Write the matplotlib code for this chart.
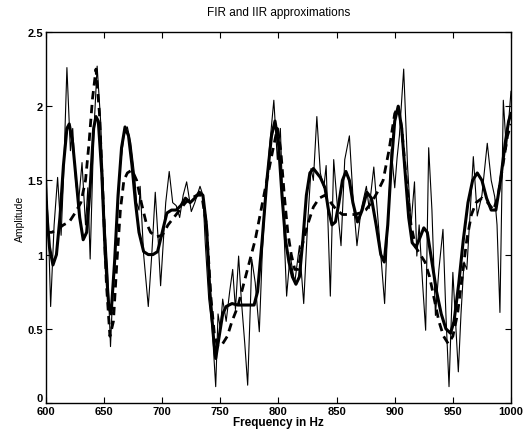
import numpy as np
import matplotlib
matplotlib.use("Agg")
import matplotlib.pyplot as plt

plt.rcParams['font.family'] = ['Liberation Sans', 'DejaVu Sans']

# measured response (thin line)
orig_f = [600, 602, 604, 607, 610, 613, 615, 618, 621, 623, 625.5, 628, 631, 634, 636, 638,
          641, 644, 647, 650, 653, 655.5, 658, 661, 664, 667, 670, 673, 676, 678, 680, 681,
          684, 688, 691, 694, 696.5, 698.6, 701, 703, 706, 709, 712, 715, 718, 721, 725, 728,
          732.5, 735, 737, 740, 743, 746, 748, 750, 752, 755, 758, 760.6, 763, 765.7, 768, 771,
          773.5, 776, 777, 780, 783.5, 786, 789, 792, 796, 799, 801.6, 804, 807, 810, 812, 814,
          818, 821.7, 825, 828, 830, 833, 836, 839, 841, 844.6, 847.5, 851, 853.8, 857, 861, 864,
          867.5, 871, 875.6, 878, 882, 886, 888, 891.3, 894, 897, 900, 902, 904, 907.7, 911, 914,
          917, 919, 921, 924, 926.6, 929.2, 932, 935, 938, 941.5, 944, 946.7, 950, 952, 954.7, 957,
          959.6, 962, 965, 967.6, 971, 975, 979.6, 983, 986, 988, 990.5, 993.4, 996, 998, 1000]
orig_a = [1.60, 1.20, 0.65, 1.20, 1.52, 1.13, 1.50, 2.26, 1.70, 1.85, 1.49, 1.35, 1.62, 1.20, 1.45, 0.97,
          1.80, 2.27, 1.90, 1.30, 0.90, 0.38, 0.85, 1.20, 1.60, 1.80, 1.86, 1.75, 1.55, 1.35, 1.30, 1.46,
          1.00, 0.65, 1.00, 1.42, 1.10, 0.79, 1.10, 1.35, 1.56, 1.35, 1.33, 1.25, 1.40, 1.49, 1.29, 1.35,
          1.46, 1.40, 1.08, 0.70, 0.50, 0.11, 0.60, 0.50, 0.70, 0.55, 0.75, 0.90, 0.63, 0.99, 0.70, 0.40,
          0.12, 0.70, 0.97, 0.81, 0.48, 1.00, 1.40, 1.70, 2.04, 1.64, 1.85, 1.30, 0.72, 1.00, 0.90, 0.81,
          1.06, 0.67, 1.20, 1.58, 1.50, 1.93, 1.55, 1.45, 1.60, 0.72, 1.64, 1.29, 1.06, 1.64, 1.80, 1.40,
          1.06, 1.30, 1.46, 1.31, 1.59, 1.20, 1.00, 0.67, 1.20, 1.71, 1.45, 1.65, 1.80, 2.25, 1.60, 1.20,
          1.49, 0.99, 1.20, 0.80, 0.49, 1.72, 1.30, 0.59, 0.90, 1.17, 0.60, 0.11, 0.88, 0.60, 0.21, 0.60,
          0.95, 0.90, 1.30, 1.66, 1.26, 1.40, 1.75, 1.50, 1.39, 1.20, 0.61, 2.04, 1.71, 1.90, 2.10]

# FIR approximation (thick solid)
fir_f = [600, 603, 606, 609, 612, 615, 618, 620, 623, 626, 629, 632, 635, 638, 641, 643, 645, 648,
         651, 654, 656, 659, 662, 665, 668, 671, 674, 677, 680, 684, 688, 692, 696, 700, 704, 708,
         712, 716, 720, 724, 728, 732, 735, 738, 741, 744, 746, 749, 752, 755, 760, 765, 770, 775,
         779, 782, 786, 790, 794, 797, 800, 803, 806, 809, 812, 815, 818, 821, 824, 827, 830, 833,
         836, 840, 843, 846, 849, 852, 855, 858, 861, 864, 868, 872, 876, 880, 884, 888, 891, 894,
         897, 900, 903, 906, 909, 912, 915, 918, 921, 925, 928, 932, 936, 940, 944, 948, 951, 955,
         959, 963, 967, 971, 975, 979, 983, 987, 991, 995, 998, 1000]
fir_a = [1.35, 1.05, 0.93, 1.00, 1.25, 1.60, 1.85, 1.88, 1.75, 1.50, 1.25, 1.10, 1.15, 1.45, 1.85, 1.93, 1.90, 1.55,
         1.00, 0.65, 0.60, 0.95, 1.40, 1.72, 1.86, 1.80, 1.60, 1.35, 1.15, 1.02, 1.00, 1.00, 1.02, 1.15, 1.28, 1.30,
         1.30, 1.33, 1.38, 1.35, 1.38, 1.42, 1.40, 1.20, 0.75, 0.45, 0.30, 0.45, 0.60, 0.65, 0.67, 0.66, 0.66, 0.66,
         0.66, 0.75, 1.10, 1.50, 1.80, 1.90, 1.75, 1.40, 1.10, 0.95, 0.85, 0.80, 0.85, 1.10, 1.40, 1.55, 1.58, 1.55,
         1.52, 1.45, 1.30, 1.20, 1.22, 1.35, 1.50, 1.56, 1.50, 1.35, 1.22, 1.30, 1.42, 1.38, 1.20, 1.00, 0.95, 1.20,
         1.60, 1.90, 2.00, 1.85, 1.55, 1.25, 1.08, 1.05, 1.10, 1.18, 1.15, 0.95, 0.75, 0.60, 0.50, 0.47, 0.55, 0.80,
         1.10, 1.35, 1.50, 1.55, 1.50, 1.38, 1.30, 1.30, 1.50, 1.75, 1.90, 1.95]

# IIR approximation (thick dashed)
iir_f = [600, 605, 610, 615, 620, 625, 630, 634, 637, 640, 643, 646, 649, 652, 655, 658, 661, 664,
         667, 670, 674, 678, 682, 686, 690, 695, 700, 705, 710, 715, 720, 725, 730, 734, 738, 742,
         745, 748, 752, 756, 760, 765, 770, 775, 780, 785, 790, 795, 799, 802, 805, 808, 811, 814,
         817, 820, 825, 830, 835, 840, 845, 850, 855, 860, 865, 870, 875, 880, 885, 890, 895, 900,
         903, 906, 910, 914, 918, 922, 926, 930, 934, 938, 942, 946, 950, 954, 958, 962, 966, 970,
         975, 980, 985, 989, 993, 997, 1000]
iir_a = [1.15, 1.15, 1.17, 1.20, 1.22, 1.28, 1.35, 1.50, 1.75, 2.05, 2.25, 1.95, 1.40, 0.80, 0.45, 0.55, 0.95, 1.30,
         1.50, 1.55, 1.57, 1.50, 1.35, 1.22, 1.15, 1.12, 1.13, 1.20, 1.25, 1.30, 1.35, 1.38, 1.40, 1.40, 1.20, 0.70,
         0.45, 0.38, 0.40, 0.45, 0.55, 0.65, 0.80, 0.95, 1.10, 1.30, 1.50, 1.70, 1.85, 1.70, 1.40, 1.15, 1.00, 0.90,
         0.90, 1.05, 1.20, 1.32, 1.38, 1.40, 1.35, 1.30, 1.27, 1.27, 1.27, 1.28, 1.30, 1.35, 1.42, 1.50, 1.70, 1.95,
         2.00, 1.85, 1.50, 1.20, 1.05, 1.00, 0.95, 0.85, 0.70, 0.55, 0.45, 0.40, 0.45, 0.60, 0.85, 1.10, 1.27, 1.35,
         1.38, 1.35, 1.30, 1.40, 1.60, 1.80, 1.88]

xticks = [600, 650, 700, 750, 800, 850, 900, 950, 1000]
yticks = [0, 0.5, 1, 1.5, 2, 2.5]
ytick_labels = ['0', '0.5', '1', '1.5', '2', '2.5']

fig = plt.figure(figsize=(5.31, 4.35), dpi=100)
ax = fig.add_axes([0.0866, 0.0713, 0.8757, 0.8529])

ax.plot(orig_f, orig_a, color='black', lw=0.8)
ax.plot(fir_f, fir_a, color='black', lw=2.2)
ax.plot(iir_f, iir_a, color='black', lw=2.0, linestyle=(0, (3, 2)))

ax.set_xlim(600, 1000)
ax.set_ylim(0, 2.5)
ax.set_xticks(xticks)
ax.set_yticks(yticks)
ax.set_yticklabels(ytick_labels)
ax.tick_params(direction='in', length=4, width=0.8, top=True, right=True,
               labelsize=8, pad=2)
for lbl in ax.get_xticklabels() + ax.get_yticklabels():
    lbl.set_fontweight('bold')
# the "0" sits just above the x axis labels, as in the original
ax.get_yticklabels()[0].set_verticalalignment('bottom')
for s in ax.spines.values():
    s.set_linewidth(1.0)

ax.set_title('FIR and IIR approximations', fontsize=8.5, pad=12)
ax.set_xlabel('Frequency in Hz', fontsize=8.5, fontweight='bold', labelpad=0)
ax.set_ylabel('Amplitude', fontsize=7.5, labelpad=2)

fig.savefig('out.png', dpi=100)
